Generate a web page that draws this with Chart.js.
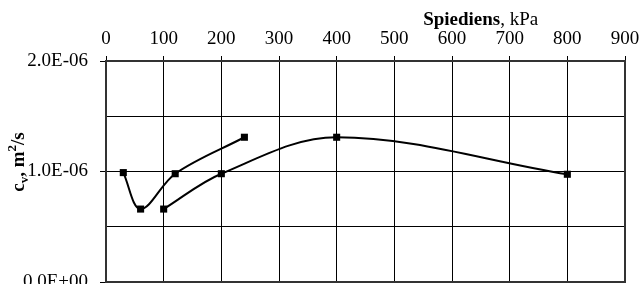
<!DOCTYPE html>
<html>
<head>
<meta charset="utf-8">
<script src="https://cdn.jsdelivr.net/npm/chart.js@4.4.1/dist/chart.umd.min.js"></script>
<style>
  html, body { margin: 0; padding: 0; background: #fff; }
  #wrap { width: 641px; height: 284px; overflow: hidden; }
</style>
</head>
<body>
<div id="wrap"><canvas id="chart" width="641" height="287"></canvas></div>
<script>
// pressure (kPa) and consolidation coefficient cv (m2/s)
const pressure1 = [30, 60, 120, 240];
const cv1 = [0.99e-6, 0.66e-6, 0.98e-6, 1.31e-6];
const pressure2 = [100, 200, 400, 800];
const cv2 = [0.66e-6, 0.98e-6, 1.31e-6, 0.975e-6];

const xTicks = [0, 100, 200, 300, 400, 500, 600, 700, 800, 900];
const yLabels = { 0: '0.0E+00', 1: '1.0E-06', 2: '2.0E-06' };

const FONT = '"Liberation Serif", "Times New Roman", serif';

const toPoints = (xs, ys) => xs.map((x, i) => ({ x: x, y: ys[i] }));

const seriesStyle = {
  borderColor: '#000',
  backgroundColor: '#000',
  borderWidth: 2,
  pointStyle: 'rect',
  pointRadius: 5,
  pointBorderWidth: 0,
  tension: 0.35,
  fill: false,
};

// axis titles with bold / sub / superscript parts
const titlesPlugin = {
  id: 'titles',
  afterDraw(chart) {
    const ctx = chart.ctx;
    const xs = chart.scales.x;
    ctx.save();
    ctx.fillStyle = '#000';
    ctx.textBaseline = 'alphabetic';
    ctx.textAlign = 'left';
    let x = xs.getPixelForValue(550);
    ctx.font = 'bold 19px ' + FONT;
    ctx.fillText('Spiediens', x, 25);
    x += ctx.measureText('Spiediens').width;
    ctx.font = '19px ' + FONT;
    ctx.fillText(', kPa', x, 25);

    // y title: c_v, m^2/s
    const parts = [
      { t: 'c', f: 'bold 19px ', dy: 0 },
      { t: 'v', f: 'bold 13px ', dy: 4 },
      { t: ', m', f: 'bold 19px ', dy: 0 },
      { t: '2', f: 'bold 13px ', dy: -8 },
      { t: '/s', f: 'bold 19px ', dy: 0 },
    ];
    let total = 0;
    parts.forEach(p => { ctx.font = p.f + FONT; p.w = ctx.measureText(p.t).width; total += p.w; });
    ctx.translate(24, 162);
    ctx.rotate(-Math.PI / 2);
    let px = -total / 2;
    parts.forEach(p => {
      ctx.font = p.f + FONT;
      ctx.fillText(p.t, px, p.dy);
      px += p.w;
    });
    ctx.restore();

    // heavier frame on right and bottom
    const a = chart.chartArea;
    ctx.save();
    ctx.strokeStyle = '#333';
    ctx.lineWidth = 2;
    ctx.beginPath();
    ctx.moveTo(a.left, a.bottom);
    ctx.lineTo(a.right, a.bottom);
    ctx.lineTo(a.right, a.top);
    ctx.stroke();
    ctx.restore();
  }
};

new Chart(document.getElementById('chart'), {
  type: 'line',
  data: {
    datasets: [
      Object.assign({ data: toPoints(pressure1, cv1) }, seriesStyle),
      Object.assign({ data: toPoints(pressure2, cv2) }, seriesStyle),
    ]
  },
  options: {
    responsive: false,
    animation: false,
    layout: { padding: { left: 0, right: 16, top: 0, bottom: 0 } },
    plugins: { legend: { display: false }, tooltip: { enabled: false } },
    scales: {
      x: {
        type: 'linear',
        position: 'top',
        min: 0,
        max: 900,
        afterBuildTicks: (s) => { s.ticks = xTicks.map(v => ({ value: v })); },
        ticks: { color: '#000', font: { family: FONT, size: 19 }, padding: 6, maxRotation: 0 },
        grid: { color: '#000', lineWidth: 1, tickLength: 5, tickColor: '#000' },
        border: { color: '#333', width: 2 },
        afterFit: (s) => { s.height = 61; s.paddingRight = 0; },
      },
      y: {
        min: 0,
        max: 2e-6,
        ticks: {
          stepSize: 0.5e-6,
          color: '#000',
          font: { family: FONT, size: 19 },
          padding: 12,
          callback: (v) => {
            const k = Math.round(v * 2e6) / 2;
            return yLabels[k] !== undefined ? yLabels[k] : '';
          }
        },
        grid: {
          color: '#000',
          lineWidth: 1,
          tickLength: 6,
          tickColor: (c) => {
            const k = Math.round(c.tick.value * 2e6) / 2;
            return yLabels[k] !== undefined ? '#000' : 'rgba(0,0,0,0)';
          }
        },
        border: { color: '#333', width: 2 },
        afterFit: (s) => { s.width = 106; s.paddingTop = 0; s.paddingBottom = 0; },
      }
    }
  },
  plugins: [titlesPlugin]
});
</script>
</body>
</html>
